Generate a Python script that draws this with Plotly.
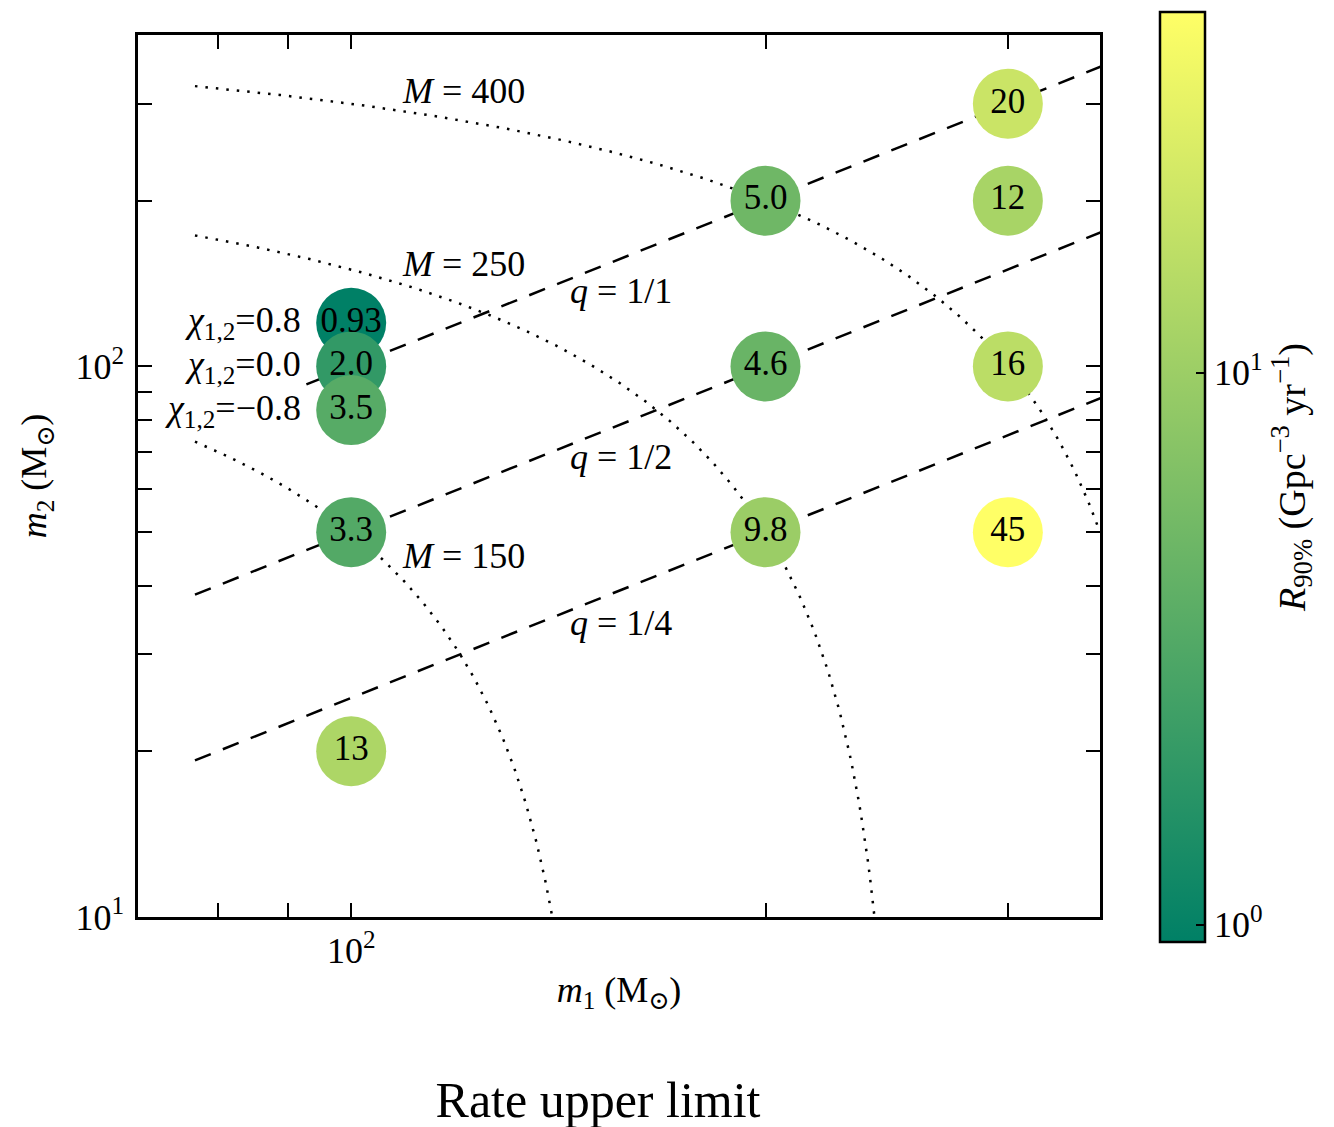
import numpy as np
import plotly.graph_objects as go

# ---- data ----
m1_vals = [100, 100, 100, 100, 100, 200, 200, 200, 300, 300, 300, 300]
m2_vals = [20, 50, 100, 100, 100, 200, 100, 50, 300, 200, 100, 50]
chi_vals = [0.0, 0.0, 0.8, 0.0, -0.8, 0.0, 0.0, 0.0, 0.0, 0.0, 0.0, 0.0]
rate_vals = [13, 3.3, 0.93, 2.0, 3.5, 5.0, 4.6, 9.8, 20, 12, 16, 45]
rate_labels = ["13", "3.3", "0.93", "2.0", "3.5", "5.0", "4.6", "9.8", "20", "12", "16", "45"]

q_values = [1.0, 0.5, 0.25]
q_labels = ["1/1", "1/2", "1/4"]
M_values = [150, 250, 400]
chi_labels = ["0.8", "0.0", "\u22120.8"]
chi_levels = [0.8, 0.0, -0.8]

x_tickvals = [80, 90, 100, 200, 300]
x_ticktext = ["", "", "10<sup>2</sup>", "", ""]
y_tickvals = [10, 20, 30, 40, 50, 60, 70, 80, 90, 100, 200, 300]
y_ticktext = ["10<sup>1</sup>"] + [""] * 8 + ["10<sup>2</sup>", "", ""]

x_range = [70, 350]
y_range = [10, 400]
m1_line_start = 77
spin_offset = 1.2  # display offset factor for spin variants

FONT = "Liberation Serif, DejaVu Serif, serif"
FS = 36

fig = go.Figure()

# dotted lines of constant total mass
for M in M_values:
    m1 = np.geomspace(m1_line_start, min(x_range[1], M - y_range[0]), 300)
    m2 = M - m1
    fig.add_trace(go.Scatter(x=m1, y=m2, mode="lines",
                             line=dict(color="black", width=2.5, dash="2.5px,8px"),
                             hoverinfo="skip", showlegend=False))

# dashed lines of constant mass ratio
for q in q_values:
    m1 = np.geomspace(m1_line_start, x_range[1] * 1.05, 100)
    fig.add_trace(go.Scatter(x=m1, y=q * m1, mode="lines",
                             line=dict(color="black", width=2.5, dash="17px,13px"),
                             hoverinfo="skip", showlegend=False))

disp_m2 = [m2 * spin_offset ** (c / 0.8) for m2, c in zip(m2_vals, chi_vals)]
summer = [[0.0, "rgb(0,128,102)"], [1.0, "rgb(255,255,102)"]]

fig.add_trace(go.Scatter(
    x=m1_vals, y=disp_m2, mode="markers+text",
    text=rate_labels, textposition="middle center",
    textfont=dict(family=FONT, size=35, color="black"),
    marker=dict(size=70, color=np.log10(rate_vals), colorscale=summer,
                cmin=np.log10(min(rate_vals)), cmax=np.log10(max(rate_vals)),
                line=dict(width=0),
                colorbar=dict(
                    x=1.0624, xanchor="left", xpad=0,
                    y=0.4989, yanchor="middle", ypad=0,
                    lenmode="pixels", len=930, thickness=45,
                    outlinewidth=2.5, outlinecolor="black",
                    tickvals=[0, 1], ticktext=["10<sup>0</sup>", "10<sup>1</sup>"],
                    ticks="inside", ticklen=10, tickwidth=1.5, tickcolor="black",
                    tickfont=dict(family=FONT, size=FS, color="black"),
                    title=dict(text="<i>R</i><sub>90%</sub> (Gpc<sup>\u22123</sup> yr<sup>\u22121</sup>)",
                               side="right", font=dict(family=FONT, size=38, color="black")),
                )),
    hoverinfo="skip", showlegend=False))

annotations = []
# M labels
M_label_pos = {150: 45.3, 250: 153.8, 400: 316}
for M in M_values:
    annotations.append(dict(x=np.log10(108.5), y=np.log10(M_label_pos[M]), xref="x", yref="y",
                            text=f"<i>M</i> = {M}", showarrow=False, xanchor="left",
                            yanchor="middle", font=dict(family=FONT, size=FS, color="black")))
# q labels
for q, ql in zip(q_values, q_labels):
    annotations.append(dict(x=np.log10(143.8), y=np.log10(137 * q), xref="x", yref="y",
                            text=f"<i>q</i> = {ql}", showarrow=False, xanchor="left",
                            yanchor="middle", font=dict(family=FONT, size=FS, color="black")))
# chi labels
for cl, c in zip(chi_labels, chi_levels):
    annotations.append(dict(x=np.log10(100), y=np.log10(100 * spin_offset ** (c / 0.8)),
                            xref="x", yref="y", xshift=-49,
                            text=f"<i>\u03c7</i><sub>1,2</sub>={cl}", showarrow=False, xanchor="right",
                            yanchor="middle", bgcolor="white", borderpad=0,
                            font=dict(family=FONT, size=FS, color="black")))

axis_common = dict(type="log", showgrid=False, zeroline=False, showline=True,
                   linecolor="black", linewidth=2.5, mirror="ticks", ticks="inside",
                   ticklen=14, tickwidth=1.5, tickcolor="black",
                   tickfont=dict(family=FONT, size=FS, color="black"))

fig.update_layout(
    width=1334, height=1127,
    margin=dict(l=138, r=234, t=35, b=210),
    paper_bgcolor="white", plot_bgcolor="white",
    xaxis=dict(range=[np.log10(x_range[0]), np.log10(x_range[1])],
               tickvals=x_tickvals, ticktext=x_ticktext, ticklabelstandoff=0,
               title=dict(text="<i>m</i><sub>1</sub> (M<sub>\u2299</sub>)", standoff=7,
                          font=dict(family=FONT, size=FS, color="black")),
               **axis_common),
    yaxis=dict(range=[np.log10(y_range[0]), np.log10(y_range[1])],
               tickvals=y_tickvals, ticktext=y_ticktext, ticklabelstandoff=4,
               title=dict(text="<i>m</i><sub>2</sub> (M<sub>\u2299</sub>)", standoff=18,
                          font=dict(family=FONT, size=FS, color="black")),
               **axis_common),
    title=dict(text="Rate upper limit", x=598 / 1334, xanchor="center",
               xref="container", yref="container", y=1 - 1099 / 1127, yanchor="middle",
               font=dict(family=FONT, size=50, color="black")),
    annotations=annotations,
)

fig.write_html("out.html")
